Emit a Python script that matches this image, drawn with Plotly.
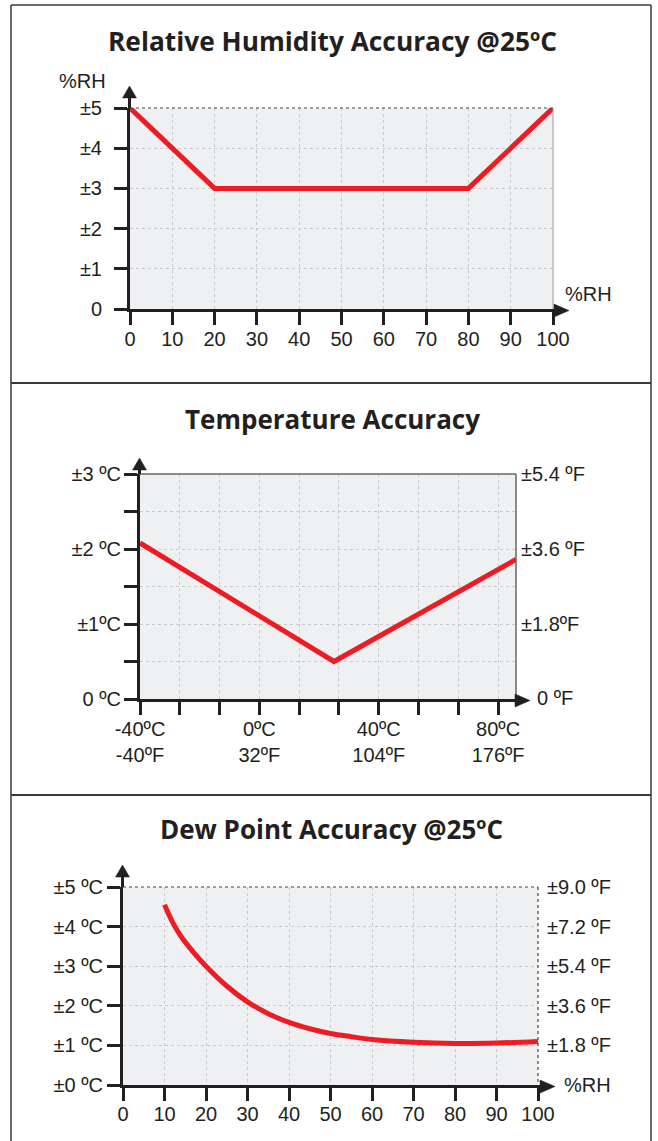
import plotly.graph_objects as go

W, H = 658, 1141

# ---------------- data ----------------
rh_x = [0, 20, 80, 100]
rh_acc = [5, 3, 3, 5]
rh_ticks = [0, 10, 20, 30, 40, 50, 60, 70, 80, 90, 100]
rh_yticks = [0, 1, 2, 3, 4, 5]
rh_ylabels = ["0", "±1", "±2", "±3", "±4", "±5"]

temp_c = [-40, 25, 86]
temp_acc = [2.08, 0.5, 1.86]
temp_xticks = [-40 + k * 40 / 3 for k in range(10)]
temp_xlabels = ["-40ºC<br>-40ºF", "", "", "0ºC<br>32ºF", "", "", "40ºC<br>104ºF", "", "", "80ºC<br>176ºF"]
temp_yticks = [0, 0.5, 1, 1.5, 2, 2.5, 3]
temp_ylabels = ["0 ºC", "", "±1ºC", "", "±2 ºC", "", "±3 ºC"]
temp_fticks = [1.8, 3.6, 5.4]
temp_flabels = ["±1.8ºF", "±3.6 ºF", "±5.4 ºF"]

dp_rh = [10, 12, 14, 17, 20, 25, 30, 35, 40, 45, 50, 55, 60, 70, 80, 90, 100]
dp_acc = [4.55, 4.1, 3.75, 3.35, 3.0, 2.5, 2.1, 1.8, 1.58, 1.42, 1.3, 1.22, 1.15, 1.08, 1.05, 1.06, 1.1]
dp_yticks = [0, 1, 2, 3, 4, 5]
dp_ylabels = ["±0 ºC", "±1 ºC", "±2 ºC", "±3 ºC", "±4 ºC", "±5 ºC"]
dp_fticks = [1.8, 3.6, 5.4, 7.2, 9.0]
dp_flabels = ["±1.8 ºF", "±3.6 ºF", "±5.4 ºF", "±7.2 ºF", "±9.0 ºF"]

titles = ["Relative Humidity Accuracy @25ºC", "Temperature Accuracy", "Dew Point Accuracy @25ºC"]

# ---------------- styling ----------------
RED = "#ed1c24"
INK = "#231f20"
GRID = "#c9cacc"
FONT = "Liberation Sans, Arial, sans-serif"
TFONT = "Open Sans, Noto Sans, sans-serif"


def px(x):
    return x / W


def py(y):
    return 1 - y / H


fig = go.Figure()

fig.add_trace(go.Scatter(x=rh_x, y=rh_acc, mode="lines", line=dict(color=RED, width=5),
                         xaxis="x", yaxis="y", hoverinfo="skip"))
fig.add_trace(go.Scatter(x=temp_c, y=temp_acc, mode="lines", line=dict(color=RED, width=5),
                         xaxis="x2", yaxis="y2", hoverinfo="skip"))
fig.add_trace(go.Scatter(x=temp_c, y=[v * 1.8 for v in temp_acc], mode="lines", opacity=0,
                         line=dict(width=0), xaxis="x2", yaxis="y3", hoverinfo="skip"))
fig.add_trace(go.Scatter(x=dp_rh, y=dp_acc, mode="lines", line=dict(color=RED, width=5, shape="spline"),
                         xaxis="x3", yaxis="y4", hoverinfo="skip"))
fig.add_trace(go.Scatter(x=dp_rh, y=[v * 1.8 for v in dp_acc], mode="lines", opacity=0,
                         line=dict(width=0), xaxis="x3", yaxis="y5", hoverinfo="skip"))

common = dict(showline=True, linecolor=INK, linewidth=3, ticks="outside", ticklen=13, tickwidth=3,
              tickcolor=INK, showgrid=True, gridcolor=GRID, griddash="3px,3px", gridwidth=1,
              zeroline=False, tickfont=dict(family=FONT, size=20, color=INK), fixedrange=True,
              automargin=False)
right = dict(showline=False, showgrid=False, zeroline=False, ticks="", automargin=False,
             tickfont=dict(family=FONT, size=20, color=INK), fixedrange=True)

# panel geometry in pixels
P1 = dict(x0=130, x1=553, y0=108, y1=309)
P2 = dict(x0=140, x1=516, y0=474, y1=699)
P3 = dict(x0=123, x1=538, y0=887, y1=1085)

fig.update_layout(
    width=W, height=H, autosize=False,
    margin=dict(l=0, r=0, t=0, b=0, pad=0, autoexpand=False),
    paper_bgcolor="white", plot_bgcolor="#eff0f2", showlegend=False,
    xaxis=dict(domain=[px(P1["x0"]), px(P1["x1"])], range=[0, 100], anchor="y",
               tickvals=rh_ticks, ticktext=[str(t) for t in rh_ticks], ticklabelstandoff=-3, **common),
    yaxis=dict(domain=[py(P1["y1"]), py(P1["y0"])], range=[0, 5], anchor="x",
               tickvals=rh_yticks, ticktext=rh_ylabels, ticklabelstandoff=8, **common),
    xaxis2=dict(domain=[px(P2["x0"]), px(P2["x1"])], range=[-40, 86], anchor="y2",
                tickvals=temp_xticks, ticktext=temp_xlabels, ticklabelstandoff=-3, **common),
    yaxis2=dict(domain=[py(P2["y1"]), py(P2["y0"])], range=[0, 3], anchor="x2",
                tickvals=temp_yticks, ticktext=temp_ylabels, ticklabelstandoff=-1, **common),
    yaxis3=dict(overlaying="y2", side="right", anchor="x2", range=[0, 5.4],
                tickvals=temp_fticks, ticktext=temp_flabels, ticklabelstandoff=4, **right),
    xaxis3=dict(domain=[px(P3["x0"]), px(P3["x1"])], range=[0, 100], anchor="y4",
                tickvals=rh_ticks, ticktext=[str(t) for t in rh_ticks], ticklabelstandoff=-4, **common),
    yaxis4=dict(domain=[py(P3["y1"]), py(P3["y0"])], range=[0, 5], anchor="x3",
                tickvals=dp_yticks, ticktext=dp_ylabels, ticklabelstandoff=0, **common),
    yaxis5=dict(overlaying="y4", side="right", anchor="x3", range=[0, 9],
                tickvals=dp_fticks, ticktext=dp_flabels, ticklabelstandoff=8, **right),
)

shapes = []


def pline(x0, y0, x1, y1, color="#3a3a3a", width=1.5, dash="solid"):
    shapes.append(dict(type="line", xref="paper", yref="paper", x0=px(x0), y0=py(y0), x1=px(x1), y1=py(y1),
                       line=dict(color=color, width=width, dash=dash), layer="above"))


def tri(points):
    path = "M " + " L ".join(f"{px(a)},{py(b)}" for a, b in points) + " Z"
    shapes.append(dict(type="path", xref="paper", yref="paper", path=path,
                       fillcolor=INK, line=dict(color=INK, width=0.5), layer="above"))


# outer frame + separators
pline(11, 5, 11, 1141, width=1.5)
pline(651, 5, 651, 1141, width=1.5)
pline(11, 5, 651, 5, width=1.5)
pline(11, 383, 651, 383, width=2)
pline(11, 795, 651, 795, width=2)

# plot borders
pline(P1["x0"], P1["y0"], P1["x1"], P1["y0"], color="#444", width=1.2, dash="dot")
pline(P1["x1"], P1["y0"], P1["x1"], P1["y1"], color="#9a9a9a", width=1)
pline(P2["x0"], P2["y0"], P2["x1"], P2["y0"], color="#666", width=1.5)
pline(P2["x1"], P2["y0"], P2["x1"], P2["y1"], color="#666", width=1.5)
pline(P3["x0"], P3["y0"], P3["x1"], P3["y0"], color="#444", width=1.2, dash="dot")
pline(P3["x1"], P3["y0"], P3["x1"], P3["y1"], color="#444", width=1.2, dash="dot")

# axis arrows
for P, ytip, xtip in [(P1, 86, 569), (P2, 458, 530), (P3, 865, 555)]:
    xa = P["x0"] - 0.5
    yb = P["y1"] + 1.5
    pline(xa, P["y0"], xa, ytip + 11, color=INK, width=3)
    tri([(xa, ytip), (xa - 7, ytip + 12), (xa + 7, ytip + 12)])
    pline(P["x1"], yb, xtip - 14, yb, color=INK, width=3)
    tri([(xtip, yb), (xtip - 15, yb - 6.5), (xtip - 15, yb + 6.5)])

annotations = []


def text(x, y, s, size=20, anchor="left", bold=False, family=FONT):
    annotations.append(dict(xref="paper", yref="paper", x=px(x), y=py(y), text=s, showarrow=False,
                            xanchor=anchor, yanchor="middle",
                            font=dict(family=family, size=size, color=INK,
                                      weight="bold" if bold else "normal")))


text(332, 41, titles[0], size=26.3, anchor="center", bold=True, family=TFONT)
text(332, 419, titles[1], size=26, anchor="center", bold=True, family=TFONT)
text(331, 829, titles[2], size=26, anchor="center", bold=True, family=TFONT)

text(57, 81, "%RH")
text(563, 294, "%RH")
text(535, 698, "0 ºF")
text(562, 1085, "%RH")

fig.update_layout(shapes=shapes, annotations=annotations)

fig.write_html("out.html", config={"displayModeBar": False},
               post_script="document.body.style.margin='0';document.body.style.padding='0';")
